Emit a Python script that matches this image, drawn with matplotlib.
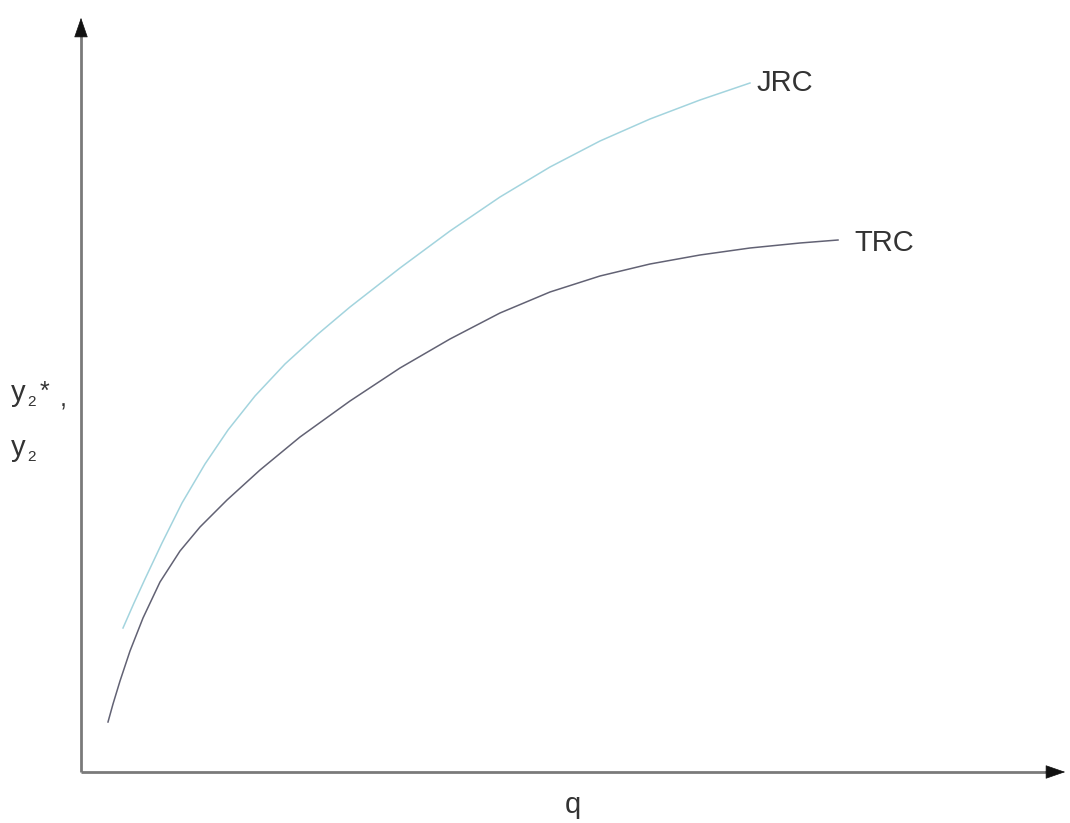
import matplotlib
matplotlib.use('Agg')
import matplotlib.pyplot as plt

plt.rcParams['font.family'] = ['Liberation Sans', 'DejaVu Sans']

# curve points (origin at the axes corner, pixel-like units)
jrc_q = [42, 53, 64, 81, 101, 124, 147, 174, 204, 237, 269, 319, 369, 419,
         469, 519, 569, 619, 669]
jrc_y = [144, 169, 193, 229, 269, 308, 342, 376, 408, 438, 465, 504, 541, 575,
         605, 631, 653, 672, 689]
trc_q = [27, 32, 39, 49, 62, 79, 99, 119, 146, 179, 219, 269, 319, 369, 419,
         469, 519, 569, 619, 669, 719, 757]
trc_y = [50, 68, 91, 121, 154, 190, 221, 245, 272, 302, 335, 371, 404, 433, 459,
         480, 496, 508, 517, 524, 529, 532]

fig = plt.figure(figsize=(10.70, 8.23), dpi=100)
ax = fig.add_axes([0, 0, 1, 1])
ax.set_xlim(-81, 989)
ax.set_ylim(-51, 772)
ax.axis('off')

axis_col = '#7a7a7a'
ax.plot([0, 0], [0, 740], color=axis_col, lw=2, solid_capstyle='butt')
ax.plot([0, 965], [0, 0], color=axis_col, lw=2, solid_capstyle='butt')
head = '-|>,head_length=1.3,head_width=0.45'
ax.annotate('', xy=(0, 757), xytext=(0, 735),
            arrowprops=dict(arrowstyle=head, color='#111111', lw=0.5))
ax.annotate('', xy=(987, 0), xytext=(962, 0),
            arrowprops=dict(arrowstyle=head, color='#111111', lw=0.5))

ax.plot(jrc_q, jrc_y, color='#a3d4de', lw=1.1, solid_joinstyle='round')
ax.plot(trc_q, trc_y, color='#626274', lw=1.1, solid_joinstyle='round')

txt = '#333333'
ax.text(676, 689, 'JRC', fontsize=21, color=txt, va='center', ha='left')
ax.text(773, 529, 'TRC', fontsize=21, color=txt, va='center', ha='left')
ax.text(492, -33, 'q', fontsize=21, color=txt, va='center', ha='center')

# y-axis label: y2*, / y2 with small subscripts
ax.text(-70, 379, 'y', fontsize=21, color=txt, va='center', ha='left')
ax.text(-54, 370, '2', fontsize=11, color=txt, va='center', ha='left')
ax.text(-41, 380, '*', fontsize=18, color=txt, va='center', ha='left')
ax.text(-21, 373, ',', fontsize=18, color=txt, va='center', ha='left')
ax.text(-70, 324, 'y', fontsize=21, color=txt, va='center', ha='left')
ax.text(-54, 315, '2', fontsize=11, color=txt, va='center', ha='left')

fig.savefig('out.png', dpi=100, facecolor='white')
